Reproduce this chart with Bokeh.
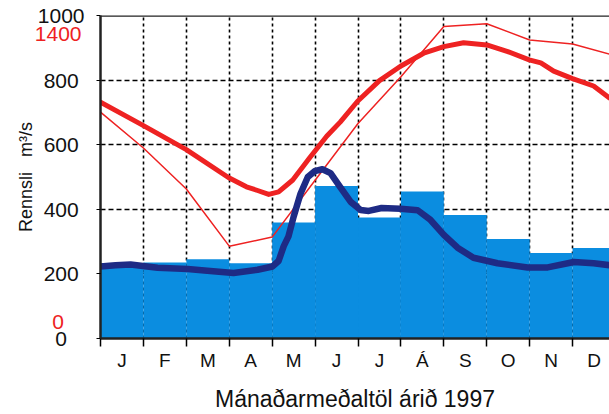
from bokeh.plotting import figure
from bokeh.models import (Range1d, LinearAxis, FixedTicker, Span)
from bokeh.embed import file_html
from bokeh.resources import INLINE

# ---------------- data ----------------
month_labels = ["J", "F", "M", "A", "M", "J", "J", "Á", "S", "O", "N", "D"]
month_centers = [0.5, 1.5, 2.5, 3.5, 4.5, 5.5, 6.5, 7.5, 8.5, 9.5, 10.5, 11.5]
month_bounds = [0, 1, 2, 3, 4, 5, 6, 7, 8, 9, 10, 11, 12]

# monthly mean discharge 1997 (m3/s) - blue bars
monthly_mean = [233, 235, 245, 233, 359, 472, 375, 455, 382, 308, 265, 280]

# daily discharge (dark blue line), time in months
daily_t = [0.00, 0.35, 0.70, 1.33, 2.03, 2.49, 3.10, 3.66, 4.01, 4.15, 4.27, 4.38,
           4.50, 4.66, 4.83, 4.99, 5.17, 5.36, 5.59, 5.83, 6.06, 6.25, 6.55, 6.99,
           7.39, 7.69, 8.00, 8.32, 8.69, 9.25, 9.95, 10.42, 11.03, 11.49, 11.86]
daily_q = [223, 227, 229, 219, 215, 210, 203, 213, 223, 240, 286, 316,
           377, 448, 500, 518, 524, 512, 468, 423, 398, 395, 404, 402,
           397, 367, 321, 281, 250, 233, 220, 220, 237, 233, 227]

# red series (second scale, 0-1400)
red_smooth_t = [0.00, 0.98, 2.00, 2.98, 3.40, 3.66, 3.92, 4.15, 4.48, 4.87, 5.27,
                5.59, 5.99, 6.50, 6.99, 7.53, 8.00, 8.46, 9.00, 9.49, 9.99, 10.26,
                10.56, 11.00, 11.49, 11.86]
red_smooth_v = [1065, 954, 835, 700, 655, 637, 618, 630, 688, 795, 900,
                970, 1070, 1170, 1240, 1303, 1335, 1354, 1343, 1311, 1271, 1256,
                1216, 1180, 1144, 1086]

red_thin_t = month_bounds
red_thin_v = [1017, 843, 644, 367, 411, 687, 962, 1189, 1433, 1446, 1367, 1348, 1290]

y_ticks = [0, 200, 400, 600, 800, 1000]
red_ticks = [0, 1400]

# ---------------- styling ----------------
FONT = "Liberation Sans"
BAR = "#0b8de0"
DARK = "#1e2b85"
RED = "#ee2222"
FIG = "\u2007"   # figure space (digit width)
HALF = "\u2008"  # punctuation space (about half a digit)


def pad(v):
    """pad a tick label so right-aligned labels look centred on a 4-digit width"""
    s = str(v)
    n = 4 - len(s)
    return s + FIG * (n // 2) + (HALF if n % 2 else "")


p = figure(width=609, height=414, output_backend="svg", toolbar_location=None,
           x_range=Range1d(0, 11.86), y_range=Range1d(0, 1000),
           min_border_left=100, min_border_right=0, min_border_top=15,
           min_border_bottom=70, outline_line_color=None,
           x_axis_label="Mánaðarmeðaltöl árið 1997")
p.extra_y_ranges = {"red": Range1d(-81, 1486)}
p.background_fill_color = "white"
p.border_fill_color = "white"

# grids
p.xgrid.ticker = FixedTicker(ticks=month_bounds[1:-1])
p.xgrid.grid_line_color = "black"
p.xgrid.grid_line_dash = "3 3"
p.xgrid.grid_line_width = 1.6
p.ygrid.ticker = FixedTicker(ticks=y_ticks[1:-1])
p.ygrid.grid_line_color = "black"
p.ygrid.grid_line_dash = "5 3"
p.ygrid.grid_line_width = 1.4

# bars
p.vbar(x=month_centers, top=monthly_mean, bottom=0, width=1.0,
       fill_color=BAR, line_color=None)

# red lines
p.line(red_thin_t, red_thin_v, y_range_name="red", line_color=RED, line_width=1.5)
p.line(red_smooth_t, red_smooth_v, y_range_name="red", line_color=RED,
       line_width=5, line_join="round", line_cap="round")

# dark blue daily line
p.line(daily_t, daily_q, line_color=DARK, line_width=6.5, line_join="round",
       line_cap="round")

# top border
p.add_layout(Span(location=1000, dimension="width", line_color="#222222", line_width=2.5))

# x axis
xa = p.xaxis[0]
xa.ticker = FixedTicker(ticks=month_centers, minor_ticks=month_bounds)
xa.major_label_overrides = {c: m for c, m in zip(month_centers, month_labels)}
xa.major_tick_out = 0
xa.major_tick_in = 0
xa.minor_tick_out = 8
xa.minor_tick_in = 0
xa.minor_tick_line_color = "black"
xa.minor_tick_line_width = 1.5
xa.axis_line_width = 2.5
xa.axis_line_color = "#222222"
xa.major_label_text_font = FONT
xa.major_label_text_font_size = "19px"
xa.major_label_text_color = "#111111"
xa.major_label_standoff = 3
xa.axis_label_text_font = FONT
xa.axis_label_text_font_size = "23px"
xa.axis_label_text_font_style = "normal"
xa.axis_label_text_color = "#111111"
xa.axis_label_standoff = 12

# black y axis
ya = p.yaxis[0]
ya.ticker = FixedTicker(ticks=y_ticks)
ya.major_label_overrides = {v: pad(v) for v in y_ticks}
ya.major_tick_out = 4
ya.major_tick_in = 0
ya.minor_tick_line_color = None
ya.axis_line_width = 2.5
ya.axis_line_color = "#222222"
ya.major_label_text_font = FONT
ya.major_label_text_font_size = "21px"
ya.major_label_text_color = "#111111"
ya.major_label_standoff = 12

# red scale axis (labels pulled back over the black labels)
ra = LinearAxis(y_range_name="red", ticker=FixedTicker(ticks=red_ticks),
                major_label_overrides={v: pad(v) for v in red_ticks},
                axis_line_color=None, major_tick_line_color=None,
                minor_tick_line_color=None, major_tick_out=0, major_tick_in=0,
                major_label_text_color=RED, major_label_text_font=FONT,
                major_label_text_font_size="21px", major_label_standoff=-47,
                axis_label="Rennsli\u00a0\u00a0\u00a0m³/s",
                axis_label_text_font=FONT, axis_label_text_font_size="18px",
                axis_label_text_font_style="normal",
                axis_label_text_color="#111111", axis_label_standoff=-4)
p.add_layout(ra, "left")

open("out.html", "w").write(file_html(p, INLINE))
